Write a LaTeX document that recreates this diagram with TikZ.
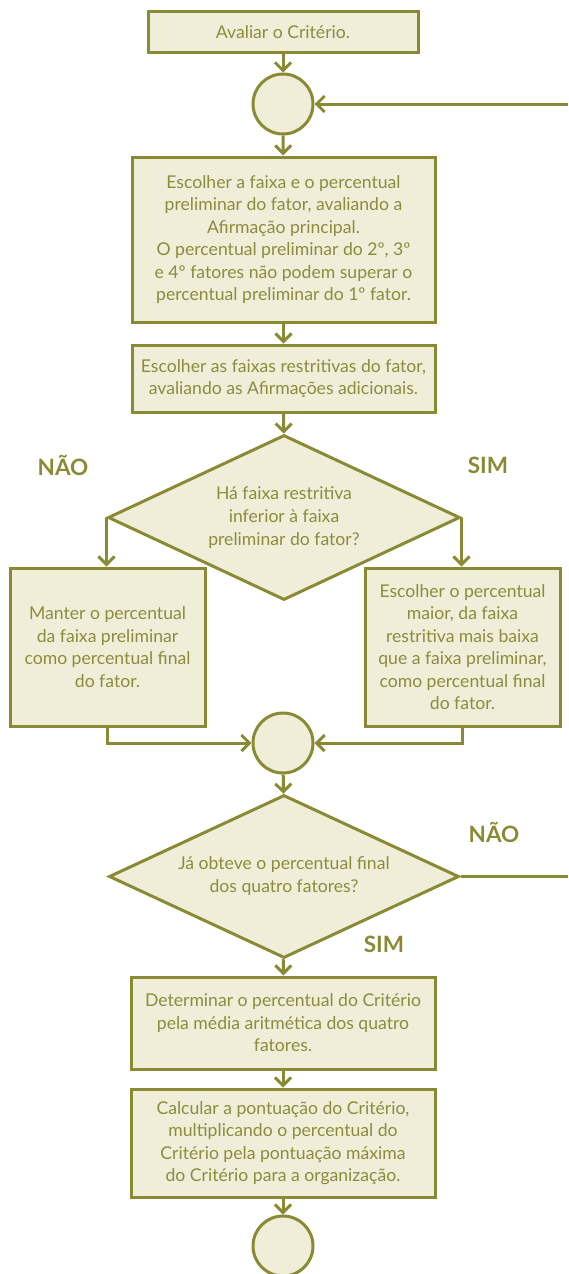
\documentclass[tikz,border=0pt]{standalone}
\usepackage{fontspec}
\setmainfont{Lato}
\usetikzlibrary{shapes.geometric,arrows.meta}
\definecolor{olc}{HTML}{8A8A35}
\definecolor{fillc}{HTML}{F0EED9}
\definecolor{txtc}{HTML}{8C8C3C}
\begin{document}
\begin{tikzpicture}[x=1pt,y=-1pt,
  box/.style={draw=olc, fill=fillc, line width=3pt, text=txtc, align=center,
    font=\fontsize{17.6}{22.5}\selectfont, inner sep=0pt},
  conn/.style={circle, draw=olc, fill=fillc, line width=3pt, minimum size=60pt, inner sep=0pt},
  dec/.style={diamond, aspect=2.13, draw=olc, fill=fillc, line width=3pt, text=txtc, align=center,
    font=\fontsize{17.6}{23}\selectfont, inner sep=0pt},
  lbl/.style={text=olc, font=\fontsize{22.5}{26}\selectfont\bfseries, inner sep=0pt},
  arr/.style={draw=olc, line width=3pt, -{Straight Barb[length=8pt,width=16pt]}},
  ln/.style={draw=olc, line width=3pt}]
\useasboundingbox (0,0) rectangle (568,1274);
\node[box, minimum width=270pt, minimum height=41pt] (b1) at (283,32) {Avaliar o Critério.};
\node[conn] (c1) at (283,104) {};
\node[box, minimum width=303pt, minimum height=165pt] (b2) at (283.5,239.5)
  {Escolher a faixa e o percentual\\preliminar do fator, avaliando a\\Afirmação principal.\\O percentual preliminar do 2º, 3º\\e 4º fatores não podem superar o\\percentual preliminar do 1º fator.};
\node[box, minimum width=303pt, minimum height=67pt] (b3) at (283.5,378.5)
  {Escolher as faixas restritivas do fator,\\avaliando as Afirmações adicionais.};
\node[dec, minimum width=352pt, minimum height=165pt] (d1) at (284,517.5)
  {Há faixa restritiva\\inferior à faixa\\preliminar do fator?};
\node[box, minimum width=195pt, minimum height=158pt] (bl) at (107.5,647)
  {Manter o percentual\\da faixa preliminar\\como percentual final\\do fator.};
\node[box, minimum width=195pt, minimum height=158pt] (br) at (462.5,647)
  {Escolher o percentual\\maior, da faixa\\restritiva mais baixa\\que a faixa preliminar,\\como percentual final\\do fator.};
\node[conn] (c2) at (283,743) {};
\node[dec, minimum width=350pt, minimum height=163pt] (d2) at (284,876.5)
  {Já obteve o percentual final\\dos quatro fatores?};
\node[box, minimum width=304pt, minimum height=92pt] (b4) at (283,1023)
  {Determinar o percentual do Critério\\pela média aritmética dos quatro\\fatores.};
\node[box, minimum width=304pt, minimum height=108pt] (b5) at (283,1143)
  {Calcular a pontuação do Critério,\\multiplicando o percentual do\\Critério pela pontuação máxima\\do Critério para a organização.};
\node[conn] (c3) at (283,1246) {};
\node[lbl] (n1) at (63,465) {NÃO};
\node[lbl] (s1) at (488,465) {SIM};
\node[lbl] (n2) at (494,832) {NÃO};
\node[lbl] (s2) at (384,944) {SIM};
\coordinate (rb) at (568,876.5);
\coordinate (rt) at (568,104);
\draw[arr] (b1) -- (c1);
\draw[arr] (c1) -- (b2);
\draw[arr] (b2) -- (b3);
\draw[arr] (b3) -- (d1);
\draw[arr] (d1.west) -- (d1.west |- bl.north);
\draw[arr] (d1.east) -- (d1.east |- br.north);
\draw[arr] (bl.south) |- (c2.west);
\draw[arr] (br.south) |- (c2.east);
\draw[arr] (c2) -- (d2);
\draw[arr] (d2) -- (b4);
\draw[arr] (b4) -- (b5);
\draw[arr] (b5) -- (c3);
\draw[ln] (d2.east) -- (rb);
\draw[arr] (rt) -- (c1.east);
\end{tikzpicture}
\end{document}
